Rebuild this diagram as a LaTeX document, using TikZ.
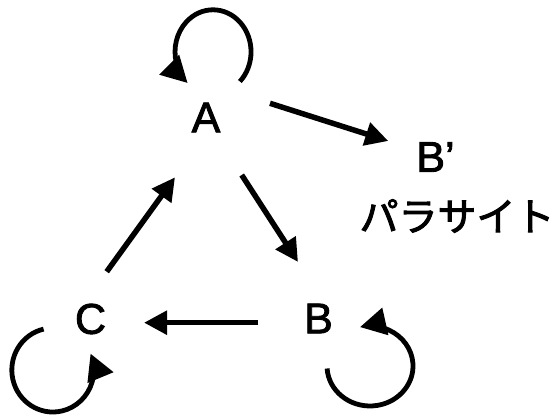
\documentclass[tikz,border=0pt]{standalone}
\usepackage{fontspec}
\setmainfont{Liberation Sans}[FakeBold=2]
\newfontfamily\jpfont{Noto Sans CJK JP}[FakeBold=2.5]
\usetikzlibrary{arrows.meta, positioning}

\begin{document}
\begin{tikzpicture}[x=1pt, y=1pt,
    lbl/.style={font=\fontsize{43}{48}\selectfont, inner sep=0pt},
    arr/.style={line width=5.5pt, -{Triangle[length=23pt,width=23pt]}},
    selfloop/.style={line width=4.8pt, -{Triangle[length=26pt,width=27pt]}}]
    \useasboundingbox (0,0) rectangle (557,417);

    % Species
    \node[lbl] (A) at (206,299.5) {A};
    \node[lbl] (B) at (318.5,98.5) {B};
    \node[lbl] (C) at (90.5,98) {C};
    \node[lbl] (Bp) at (435.5,260) {B’};
    \node[lbl, font=\jpfont\fontsize{39}{44}\selectfont] (para) at (457,201) {パラサイト};

    % Self loops
    \draw[selfloop] ([shift={(33.9,36)}]A.center) arc[start angle=-45, end angle=228, x radius=38, y radius=42];
    \draw[selfloop] ([shift={(8.6,-50)}]B.center) arc[start angle=183.6, end angle=463.5, x radius=43, y radius=40];
    \draw[selfloop] ([shift={(-46.9,-10.1)}]C.center) arc[start angle=103, end angle=383, x radius=41, y radius=42];

    % Cycle and parasite
    \draw[arr] ([shift={(64,14.2)}]A.center) -- ([shift={(-47.2,16)}]Bp.center);
    \draw[arr] ([shift={(35.7,-57.5)}]A.center) -- ([shift={(-20.5,56.5)}]B.center);
    \draw[arr] ([shift={(-60.2,-4.2)}]B.center) -- ([shift={(53.5,-3.7)}]C.center);
    \draw[arr] ([shift={(16.2,47.3)}]C.center) -- ([shift={(-31,-59.8)}]A.center);
\end{tikzpicture}
\end{document}
